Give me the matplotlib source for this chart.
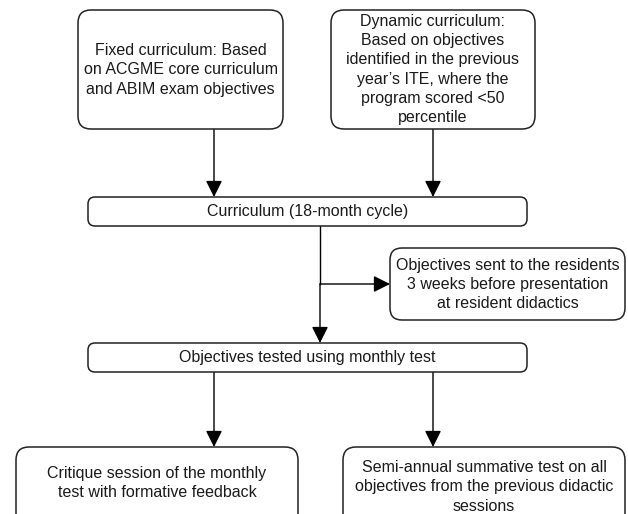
import matplotlib
matplotlib.use('Agg')
import matplotlib.pyplot as plt
from matplotlib.patches import FancyBboxPatch

plt.rcParams['font.family'] = ['Liberation Sans', 'DejaVu Sans']

# box texts
fixed_txt = "Fixed curriculum: Based\non ACGME core curriculum\nand ABIM exam objectives"
dynamic_txt = ("Dynamic curriculum:\nBased on objectives\nidentified in the previous\n"
               "year\u2019s ITE, where the\nprogram scored <50\npercentile")
cycle_txt = "Curriculum (18-month cycle)"
sent_txt = "Objectives sent to the residents\n3 weeks before presentation\nat resident didactics"
tested_txt = "Objectives tested using monthly test"
critique_txt = "Critique session of the monthly\ntest with formative feedback"
semi_txt = ("Semi-annual summative test on all\nobjectives from the previous didactic\n"
            "sessions")

fig = plt.figure(figsize=(6.28, 5.14), dpi=100)
ax = fig.add_axes([0, 0, 1, 1])
ax.set_xlim(0, 628)
ax.set_ylim(514, 0)
ax.axis('off')

edge = '#222222'


def box(x0, y0, x1, y1, r):
    p = FancyBboxPatch((x0, y0), x1 - x0, y1 - y0,
                       boxstyle='round,pad=0,rounding_size=%g' % r,
                       fc='white', ec=edge, lw=1.1, zorder=2)
    ax.add_patch(p)


def label(x, y, s):
    ax.text(x, y, s, ha='center', va='center', fontsize=11.5,
            color='#1a1a1a', linespacing=1.36, zorder=3)


def arrow(x0, y0, x1, y1):
    ax.annotate('', xy=(x1, y1), xytext=(x0, y0),
                arrowprops=dict(arrowstyle='-|>,head_length=1.0,head_width=0.5',
                                color='black', lw=1.0, shrinkA=0, shrinkB=0,
                                mutation_scale=10), zorder=1)


box(78, 10, 283, 129, 13)
label(180.5, 70, fixed_txt)
box(331, 10, 535, 129, 13)
label(433, 69.5, dynamic_txt)

arrow(214, 129, 214, 197)
arrow(433, 129, 433, 197)

box(88, 197, 527, 226, 7)
label(307.5, 211.5, cycle_txt)

ax.plot([320, 320], [226, 284], color='black', lw=1.0, zorder=1)
arrow(320, 284, 320, 343)
arrow(320, 284, 390, 284)

box(390, 248, 625, 320, 12)
label(507.5, 284.5, sent_txt)

box(88, 343, 527, 372, 7)
label(307.5, 357.5, tested_txt)

arrow(214, 372, 214, 447)
arrow(433, 372, 433, 447)

box(16, 447, 298, 540, 13)
label(157, 483, critique_txt)
box(343, 447, 625, 540, 13)
label(484, 487, semi_txt)

fig.savefig('out.png', dpi=100)
